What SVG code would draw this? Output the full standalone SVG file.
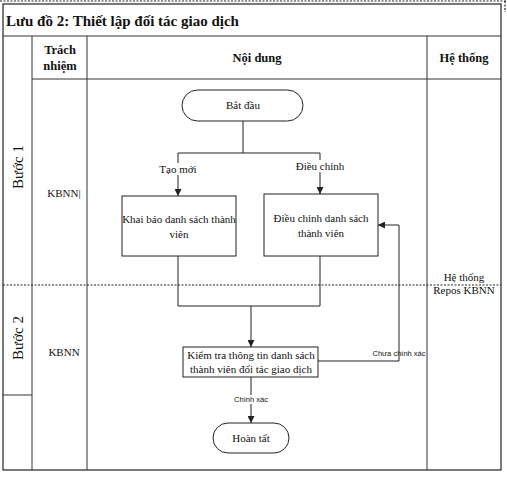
<svg xmlns="http://www.w3.org/2000/svg" width="507" height="479" viewBox="0 0 507 479">
<defs>
<marker id="arr" viewBox="0 0 10 10" refX="10" refY="5" markerWidth="7" markerHeight="7" orient="auto" markerUnits="userSpaceOnUse">
<path d="M0,0 L10,5 L0,10 z" fill="#222"/>
</marker>
<style>
.frame{fill:none;stroke:#333;stroke-width:1.3}
.grid{stroke:#333;stroke-width:1;fill:none}
.dot{stroke:#222;stroke-width:1.2;stroke-dasharray:2,1.5;fill:none}
.box{fill:#fff;stroke:#222;stroke-width:1}
.conn{stroke:#222;stroke-width:1;fill:none}
.t{font-family:"Liberation Serif","Times New Roman",serif;font-size:11px;fill:#111;text-anchor:middle}
.hd{font-family:"Liberation Serif","Times New Roman",serif;font-size:12.5px;font-weight:bold;fill:#111;text-anchor:middle}
.title{font-family:"Liberation Serif","Times New Roman",serif;font-size:15px;font-weight:bold;fill:#111}
.step{font-family:"Liberation Serif","Times New Roman",serif;font-size:15px;fill:#111;text-anchor:middle}
.sm{font-family:"Liberation Sans",Arial,sans-serif;font-size:7.5px;fill:#111;text-anchor:middle}
</style>
</defs>
<rect width="507" height="479" fill="#fff"/>
<line class="dot" x1="0" y1="1" x2="507" y2="1"/>
<line class="dot" x1="505" y1="1" x2="505" y2="12"/>
<g id="table">
<rect class="frame" x="3" y="4" width="498" height="466"/>
<line class="grid" x1="3" y1="36" x2="501" y2="36"/>
<line class="grid" x1="32" y1="79" x2="501" y2="79"/>
<line class="grid" x1="32" y1="36" x2="32" y2="470"/>
<line class="grid" x1="87" y1="36" x2="87" y2="470"/>
<line class="grid" x1="427" y1="36" x2="427" y2="470"/>
<line class="grid" x1="3" y1="395" x2="32" y2="395"/>
<line class="dot" x1="3" y1="285" x2="501" y2="285"/>
<text class="title" x="6" y="26">Lưu đồ 2: Thiết lập đối tác giao dịch</text>
<text class="hd" x="60" y="54">Trách</text>
<text class="hd" x="60" y="70">nhiệm</text>
<text class="hd" x="257" y="62">Nội dung</text>
<text class="hd" x="464" y="62">Hệ thống</text>
<text class="step" transform="translate(23,167) rotate(-90)">Bước 1</text>
<text class="step" transform="translate(23,338) rotate(-90)">Bước 2</text>
<text class="t" x="64" y="197">KBNN|</text>
<text class="t" x="64" y="356">KBNN</text>
<text class="t" x="464" y="281">Hệ thống</text>
<text class="t" x="464" y="294">Repos KBNN</text>
</g>
<g id="connectors">
<polyline class="conn" points="243,121 243,153"/>
<polyline class="conn" points="178,153 320,153"/>
<polyline class="conn" points="178,153 178,196" marker-end="url(#arr)"/>
<polyline class="conn" points="320,153 320,194" marker-end="url(#arr)"/>
<polyline class="conn" points="178,256 178,306 320,306 320,256"/>
<polyline class="conn" points="251,306 251,347" marker-end="url(#arr)"/>
<polyline class="conn" points="251,377 251,423" marker-end="url(#arr)"/>
<polyline class="conn" points="318,361 399,361 399,225 378,225" marker-end="url(#arr)"/>
<rect x="164" y="163" width="28" height="12" fill="#fff"/>
<text class="t" x="178" y="173">Tạo mới</text>
<rect x="300" y="160" width="40" height="12" fill="#fff"/>
<text class="t" x="320" y="170">Điều chỉnh</text>
<text class="sm" x="399" y="356">Chưa chính xác</text>
<rect x="236" y="395" width="31" height="9" fill="#fff"/>
<text class="sm" x="251" y="402">Chính xác</text>
</g>
<g id="start">
<rect class="box" x="182" y="90" width="121" height="31" rx="15.5"/>
<text class="t" x="243" y="109">Bắt đầu</text>
</g>
<g id="khaibao">
<rect class="box" x="122" y="196" width="114" height="60"/>
<text class="t" x="179" y="223">Khai báo danh sách thành</text>
<text class="t" x="179" y="238">viên</text>
</g>
<g id="dieuchinh">
<rect class="box" x="264" y="194" width="114" height="62"/>
<text class="t" x="321" y="222">Điều chỉnh danh sách</text>
<text class="t" x="321" y="237">thành viên</text>
</g>
<g id="kiemtra">
<rect class="box" x="183" y="347" width="135" height="30"/>
<text class="t" x="251" y="359">Kiểm tra thông tin danh sách</text>
<text class="t" x="251" y="373">thành viên đối tác giao dịch</text>
</g>
<g id="hoantat">
<rect class="box" x="213" y="423" width="76" height="30" rx="15"/>
<text class="t" x="251" y="442">Hoàn tất</text>
</g>
</svg>
